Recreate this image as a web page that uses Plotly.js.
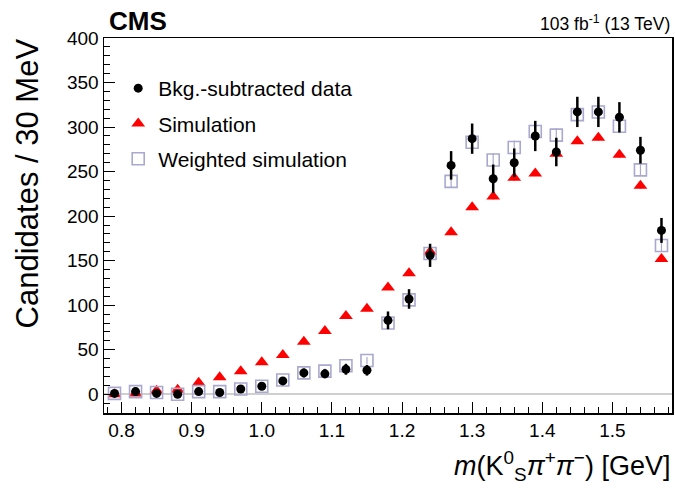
<!DOCTYPE html>
<html>
<head>
<meta charset="utf-8">
<script src="https://cdn.plot.ly/plotly-3.0.1.min.js"></script>
<style>
html,body{margin:0;padding:0;background:#fff;}
#chart{width:675px;height:496px;}
</style>
</head>
<body>
<div id="chart"></div>
<script>
// Bin centres of m(K0S pi+ pi-) in GeV (30 MeV bins)
const mass = [0.79,0.82,0.85,0.88,0.91,0.94,0.97,1.00,1.03,1.06,1.09,1.12,1.15,1.18,1.21,1.24,1.27,1.30,1.33,1.36,1.39,1.42,1.45,1.48,1.51,1.54,1.57];
// Background-subtracted data
const dataVals = [1,3,1,0,3,2,6,9,15,24,23,28,27,83,107,156,257,287,242,260,290,272,317,317,311,274,184];
const dataErr  = [2,2,2,2,3,3,3,3,4,5,5,6,6,10,11,13,16,17,16,16,17,16,17,17,17,15,14];
// Simulation
const simVals = [0,1,4,5,13,19,26,36,44,59,71,88,96,120,136,160,182,210,222,243,248,270,284,288,269,234,152];
const simErr  = [1,1,1,1,1,1,1,1,1,1,2,2,2,2,2,2,2,3,3,3,3,3,3,3,3,3,2];
// Weighted simulation
const wVals = [1,3,2,0,3,3,6,9,16,24,26,32,38,80,106,158,239,283,263,277,295,291,314,317,301,252,167];
const wErr  = [1,1,1,1,1,1,2,2,2,3,3,3,4,4,5,6,7,8,8,8,8,8,8,8,8,7,6];
// Labels
const legendNames = ["Bkg.-subtracted data","Simulation","Weighted simulation"];
const xTitle = "<i>m</i>(K<sup>0</sup><sub>S</sub><i>π</i><sup>+</sup><i>π</i><sup>−</sup>) [GeV]";
const yTitle = "Candidates / 30 MeV";
const lumiText = "103 fb<sup>-1</sup> (13 TeV)";

const font = "Liberation Sans, Arial, sans-serif";
const lav = "#a9a9cf";

const traces = [
  {
    x: mass, y: simVals, type: "scatter", mode: "markers", name: legendNames[1],
    legendgroup: "b", legendrank: 2,
    marker: {symbol: "triangle-up", size: 12, color: "#ff0000"},
    error_y: {type: "data", array: simErr, visible: true, color: "#ff0000", thickness: 1.5, width: 0}
  },
  {
    x: mass, y: wVals, type: "scatter", mode: "markers", name: legendNames[2],
    legendgroup: "c", legendrank: 3,
    marker: {symbol: "square-open", size: 12, color: lav, line: {width: 1.6, color: lav}},
    error_y: {type: "data", array: wErr, visible: true, color: lav, thickness: 1.2, width: 0}
  },
  {
    x: mass, y: dataVals, type: "scatter", mode: "markers", name: legendNames[0],
    legendgroup: "a", legendrank: 1,
    marker: {symbol: "circle", size: 9, color: "#000000"},
    error_y: {type: "data", array: dataErr, visible: true, color: "#000000", thickness: 2.5, width: 0}
  }
];

const layout = {
  width: 675, height: 496,
  margin: {l: 104, r: 3, t: 38, b: 83},
  paper_bgcolor: "#fff", plot_bgcolor: "#fff",
  font: {family: font, color: "#000", size: 19},
  showlegend: true,
  legend: {
    x: 0.025, y: 0.92, xanchor: "left", yanchor: "top",
    font: {family: font, size: 21, color: "#000"},
    bgcolor: "rgba(0,0,0,0)", tracegroupgap: 5, traceorder: "grouped"
  },
  xaxis: {
    range: [0.775, 1.585], tick0: 0.8, dtick: 0.1, tickformat: ".1f",
    ticks: "inside", ticklen: 11, tickwidth: 1, tickcolor: "#000",
    minor: {dtick: 0.02, tick0: 0.8, ticks: "inside", ticklen: 6, tickwidth: 1, tickcolor: "#000"},
    showline: true, mirror: true, linecolor: "#000", linewidth: 1.5,
    showgrid: false, zeroline: false,
    tickfont: {family: font, size: 19, color: "#000"}
  },
  yaxis: {
    range: [-21, 400], tick0: 0, dtick: 50,
    ticks: "inside", ticklen: 11, tickwidth: 1, tickcolor: "#000",
    minor: {dtick: 10, tick0: 0, ticks: "inside", ticklen: 6, tickwidth: 1, tickcolor: "#000"},
    showline: true, mirror: true, linecolor: "#000", linewidth: 1.5,
    showgrid: false, zeroline: true, zerolinecolor: "#cfcfcf", zerolinewidth: 2,
    tickfont: {family: font, size: 19, color: "#000"}
  },
  annotations: [
    {text: "<b>CMS</b>", xref: "paper", yref: "paper", x: 0.005, y: 1, xanchor: "left", yanchor: "bottom",
     yshift: 0, showarrow: false, font: {family: font, size: 26, color: "#000"}},
    {text: lumiText, xref: "paper", yref: "paper", x: 1, y: 1, xanchor: "right", yanchor: "bottom",
     yshift: 2, showarrow: false, font: {family: font, size: 17.5, color: "#000"}},
    {text: yTitle, xref: "paper", yref: "paper", x: -0.135, y: 1.005, xanchor: "center", yanchor: "top",
     textangle: -90, showarrow: false, font: {family: font, size: 31, color: "#000"}},
    {text: xTitle, xref: "paper", yref: "paper", x: 1.0, y: -0.085, xanchor: "right", yanchor: "top",
     showarrow: false, font: {family: font, size: 27, color: "#000"}}
  ]
};

Plotly.newPlot("chart", traces, layout, {displayModeBar: false, staticPlot: true});
</script>
</body>
</html>
